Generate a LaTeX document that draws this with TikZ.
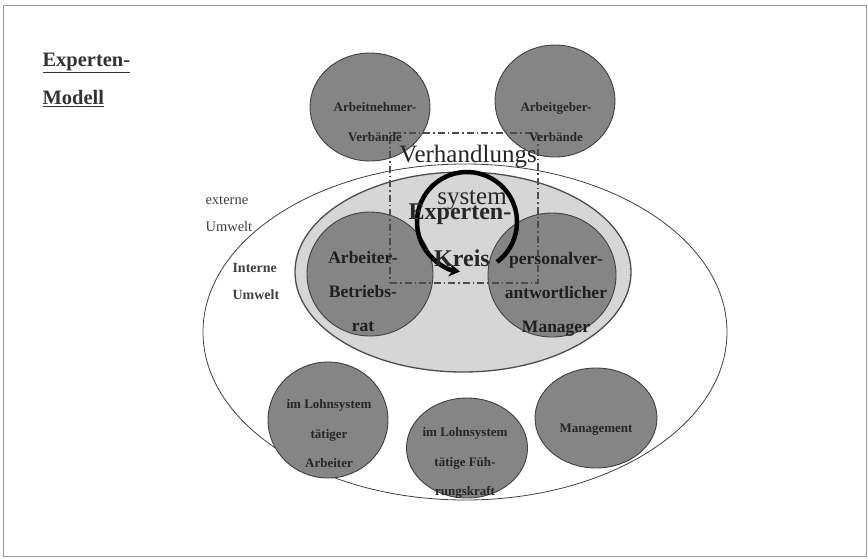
\documentclass[tikz,border=0pt]{standalone}
\usepackage{fontspec}
\setmainfont{Liberation Serif}
\usetikzlibrary{shapes.geometric, arrows.meta}

\tikzset{
	kreis/.style={ellipse, draw=black!75, fill=black!48, line width=0.9pt, inner sep=0pt},
	kreisschrift/.style={align=center, text=black!88, font=\bfseries\fontsize{17.5}{34}\selectfont},
	kleinschrift/.style={align=center, text=black!85, font=\bfseries\fontsize{13}{29.5}\selectfont},
	umweltschrift/.style={anchor=west, align=left, text=black!75, font=\fontsize{14.5}{27}\selectfont},
	grossschrift/.style={anchor=base, text=black!85, font=\fontsize{25}{25}\selectfont},
}

\begin{document}
\begin{tikzpicture}[x=1pt, y=-1pt]%[scale=1]
	\useasboundingbox (0,0) rectangle (868,558);
	\draw [black!40, line width=0.8pt] (3,5) rectangle (866,556);

	% externe und interne Umwelt
	\node [ellipse, draw=black!75, line width=0.8pt, inner sep=0pt,
		minimum width=524pt, minimum height=336pt] (extern) at (465,332) {};
	\node [ellipse, draw=black!70, fill=black!16, line width=1.3pt, inner sep=0pt,
		minimum width=336pt, minimum height=200pt] (intern) at (463,272) {};

	% Kreise
	\node [kreis, minimum width=120pt, minimum height=108pt] (anv) at (370,107) {};
	\node [kreis, minimum width=120pt, minimum height=112pt] (agv) at (555,101) {};
	\node [kreis, minimum width=126pt, minimum height=124pt] (betriebsrat) at (370,274) {};
	\node [kreis, minimum width=128pt, minimum height=124pt] (manager) at (552,275) {};
	\node [kreis, minimum width=120pt, minimum height=116pt] (arbeiter) at (328,420) {};
	\node [kreis, minimum width=121pt, minimum height=100pt] (fuehrung) at (467,448) {};
	\node [kreis, minimum width=122pt, minimum height=100pt] (management) at (596,418) {};

	% Verhandlungssystem
	\node [draw=black!70, line width=1.6pt, dash pattern=on 7pt off 3pt on 1.5pt off 3pt,
		inner sep=0pt, minimum width=148pt, minimum height=150pt] (verhandlung) at (464,208) {};
	\coordinate (kreismitte) at (467,222);
	\draw [line width=4.5pt, -{Stealth[length=11pt, width=13pt]}]
		(kreismitte) ++(53:50) arc [start angle=53, end angle=-262, radius=50];

	\node [kleinschrift] (anvtext) at (375,122) {Arbeitnehmer-\\Verbände};
	\node [kleinschrift] (agvtext) at (556,122) {Arbeitgeber-\\Verbände};
	\node [kreisschrift] (betriebsrattext) at (363,292) {Arbeiter-\\Betriebs-\\rat};
	\node [kreisschrift] (managertext) at (556,294) {personalver-\\antwortlicher\\Manager};
	\node [kleinschrift] (arbeitertext) at (329,434) {im Lohnsystem\\tätiger\\Arbeiter};
	\node [kleinschrift] (fuehrungtext) at (465,463) {im Lohnsystem\\tätige Füh-\\rungskraft};
	\node [kleinschrift] (managementtext) at (596,430) {Management};

	\node [grossschrift] (verhandlungstext) at (468,162) {Verhandlungs};
	\node [grossschrift] (systemtext) at (472,204) {system};
	\node [grossschrift, font=\bfseries\fontsize{24}{24}\selectfont] (expertentext) at (460,219) {Experten-};
	\node [grossschrift, font=\bfseries\fontsize{24}{24}\selectfont] (kreiswort) at (462,266) {Kreis};

	\node [umweltschrift] (externtext) at (202,214) {externe\\Umwelt};
	\node [umweltschrift, font=\bfseries\fontsize{14}{27}\selectfont] (interntext) at (229,281) {Interne\\Umwelt};

	\node [anchor=west, align=left, text=black!80, font=\bfseries\fontsize{20.5}{38}\selectfont]
		(titel) at (39,80) {\underline{Experten-}\\\underline{Modell}};
\end{tikzpicture}
\end{document}
